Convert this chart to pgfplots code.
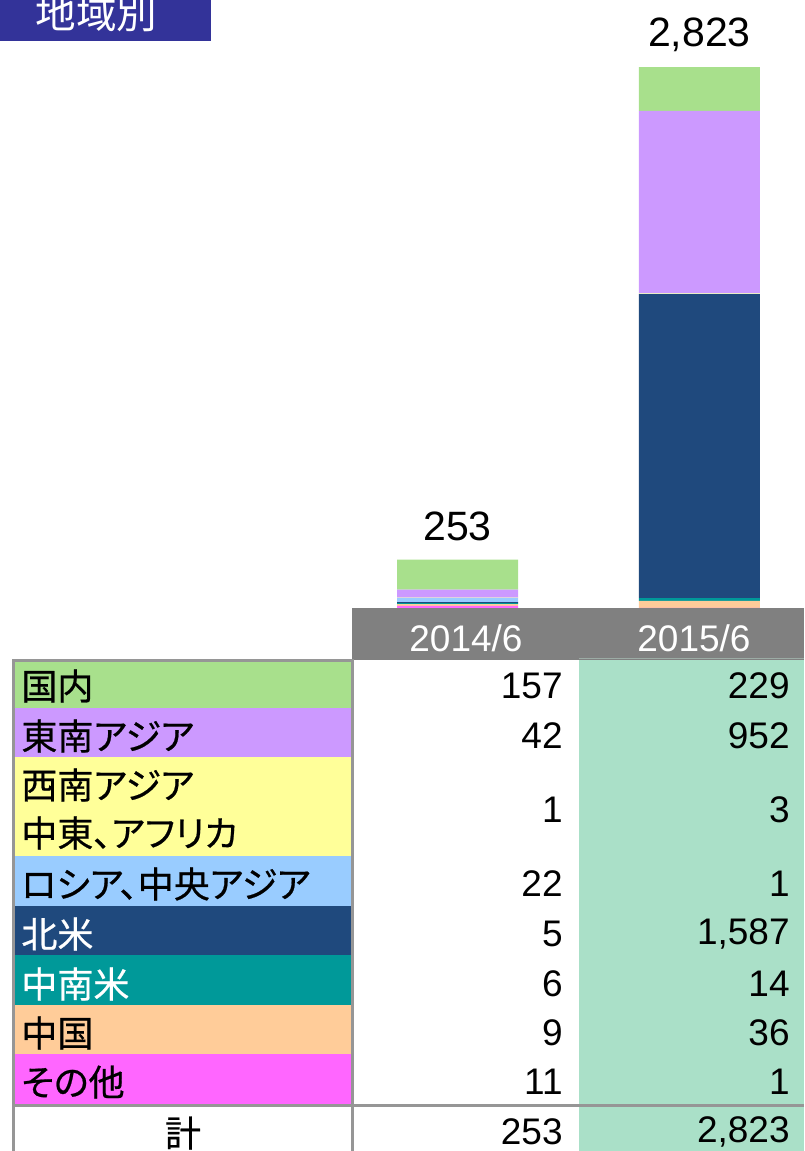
\documentclass[border=0pt]{standalone}
\usepackage{pgfplots}
\pgfplotsset{compat=1.18}
\usepackage{fontspec}
\setmainfont{Liberation Sans}
\newfontfamily\jp[RawFeature=+palt, FakeBold=0.6]{Noto Sans CJK JP}
\newfontfamily\jpt{Noto Sans CJK JP}
\definecolor{cDom}{HTML}{A8E08C}
\definecolor{cSEA}{HTML}{CC99FF}
\definecolor{cSWA}{HTML}{FFFF99}
\definecolor{cRus}{HTML}{99CCFF}
\definecolor{cNA}{HTML}{1F497D}
\definecolor{cLA}{HTML}{009999}
\definecolor{cCN}{HTML}{FFCC99}
\definecolor{cOth}{HTML}{FF66FF}
\definecolor{cMint}{HTML}{AAE0C8}
\definecolor{cHead}{HTML}{808080}
\definecolor{cLine}{HTML}{969696}
\definecolor{cTitle}{HTML}{333399}
\newcommand{\numf}{\fontsize{18.5pt}{22pt}\selectfont}
\newcommand{\jpf}{\jp\fontsize{18pt}{21pt}\selectfont}
\begin{document}
\begin{tikzpicture}[x=0.5pt,y=-0.5pt]
\useasboundingbox (0,0) rectangle (804,1151);
% title
\fill[cTitle] (0,0) rectangle (211,41);
\node[text=white, font=\jpt\fontsize{20.3pt}{24pt}\selectfont, anchor=west, inner sep=0] at (35,13) {地域別};
% bars
\begin{axis}[at={(176pt,-304pt)}, anchor=south west, scale only axis,
  width=226pt, height=304pt, xmin=-0.436, xmax=1.432, ymin=0, ymax=3173,
  axis lines=none, ticks=none, ybar stacked, bar width=60.5pt, clip=false]
\addplot[fill=cOth, draw=none] coordinates {(0,11) (1,1)};
\addplot[fill=cCN, draw=none] coordinates {(0,9) (1,36)};
\addplot[fill=cLA, draw=none] coordinates {(0,6) (1,14)};
\addplot[fill=cNA, draw=none] coordinates {(0,5) (1,1587)};
\addplot[fill=cRus, draw=none] coordinates {(0,22) (1,1)};
\addplot[fill=cSWA, draw=none] coordinates {(0,1) (1,3)};
\addplot[fill=cSEA, draw=none] coordinates {(0,42) (1,952)};
\addplot[fill=cDom, draw=none] coordinates {(0,157) (1,229)};
\node[anchor=base, yshift=9.75pt, inner sep=0, font=\fontsize{20.5pt}{24pt}\selectfont] at (axis cs:0,253) {253};
\node[anchor=base, yshift=10.5pt, inner sep=0, font=\fontsize{20.5pt}{24pt}\selectfont] at (axis cs:1,2823) {2,823};
\end{axis}
% header
\fill[cHead] (352,608) rectangle (804,660);
\node[text=white, font=\numf, inner sep=0] at (466,638) {2014/6};
\node[text=white, font=\numf, inner sep=0] at (694,638) {2015/6};
% column fills
\fill[cMint] (579,660) rectangle (804,1151);
\fill[cDom] (13,660) rectangle (352,708);
\fill[cSEA] (13,708) rectangle (352,757);
\fill[cSWA] (13,757) rectangle (352,856);
\fill[cRus] (13,856) rectangle (352,906);
\fill[cNA] (13,906) rectangle (352,955);
\fill[cLA] (13,955) rectangle (352,1005);
\fill[cCN] (13,1005) rectangle (352,1054);
\fill[cOth] (13,1054) rectangle (352,1104);
% borders
\draw[cLine, line width=1.5pt] (13,660) -- (352,660);
\draw[cLine, line width=1.5pt] (13,659) -- (13,1151);
\draw[cLine, line width=1.5pt] (352,659) -- (352,1151);
\draw[cLine, line width=1.5pt] (12,1105) -- (804,1105);
\draw[cLine!70!cMint, line width=0.5pt] (579,658) -- (804,658);
% labels
\begin{scope}[every node/.style={anchor=west, inner sep=0, font=\jpf}]
\node at (21,686) {国内};
\node at (21,736) {東南アジア};
\node at (21,785) {西南アジア};
\node at (21,833) {中東、アフリカ};
\node at (21,884) {ロシア、中央アジア};
\node[text=white] at (21,934) {北米};
\node[text=white] at (21,984) {中南米};
\node at (21,1033) {中国};
\node at (21,1082) {その他};
\end{scope}
\node[inner sep=0, font=\jpf] at (183,1133) {計};
% numbers
\begin{scope}[every node/.style={anchor=east, inner sep=0, font=\numf}]
\node at (563,686) {157};   \node at (790,686) {229};
\node at (563,736) {42};    \node at (790,736) {952};
\node at (563,810) {1};     \node at (790,810) {3};
\node at (563,884) {22};    \node at (790,884) {1};
\node at (563,934) {5};     \node at (790,934) {1,587};
\node at (563,984) {6};     \node at (790,984) {14};
\node at (563,1033) {9};    \node at (790,1033) {36};
\node at (563,1082) {11};   \node at (790,1082) {1};
\node at (563,1132) {253};  \node at (790,1132) {2,823};
\end{scope}
\end{tikzpicture}
\end{document}
